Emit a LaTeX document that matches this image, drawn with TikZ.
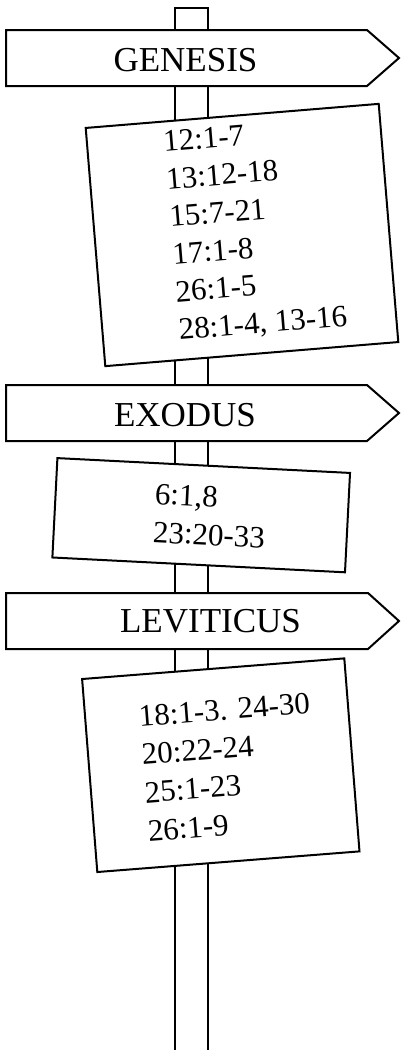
\documentclass[tikz,border=0pt]{standalone}
\usepackage{fontspec}
\setmainfont{Liberation Serif}
\tikzset{
  post/.style={line width=2pt},
  signboard/.style={draw, line width=2pt, fill=white},
  card/.style={rectangle, draw, line width=2pt, fill=white, inner sep=0pt},
  booklabel/.style={font=\fontsize{35}{42}\selectfont, inner sep=0pt},
  verses/.style={align=left, anchor=north west, inner sep=0pt}
}

\begin{document}
\begin{tikzpicture}[x=1pt,y=-1pt]
	\useasboundingbox (0,0) rectangle (400,1050);
	% the post
	\draw[post] (175,1060) -- (175,8) -- (208,8) -- (208,1060);

	% Genesis
	\draw[signboard] (6,30) -- (367,30) -- (399,58) -- (367,86) -- (6,86) -- cycle;
	\node (genesis) [booklabel] at (185.5,60) {GENESIS};
	\begin{scope}[shift={(242,235)}, rotate=4.7, transform shape]
		\node (genbox) [card, minimum width=294pt, minimum height=239pt] at (0,0) {};
		\node (genverses) [verses, font=\fontsize{31}{37.7}\selectfont] at (-71,-110.1)
			{12:1-7\\ 13:12-18\\ 15:7-21\\ 17:1-8\\ 26:1-5\\ 28:1-4, 13-16};
	\end{scope}

	% Exodus
	\draw[signboard] (6,385) -- (367,385) -- (399,413) -- (367,441) -- (6,441) -- cycle;
	\node (exodus) [booklabel] at (185,415.5) {EXODUS};
	\begin{scope}[shift={(201.2,515.2)}, rotate=-2.9, transform shape]
		\node (exbox) [card, minimum width=293pt, minimum height=99.5pt] at (0,0) {};
		\node (exverses) [verses, font=\fontsize{31}{38.4}\selectfont] at (-47.4,-29.6)
			{6:1,8\\ 23:20-33};
	\end{scope}

	% Leviticus
	\draw[signboard] (6,593) -- (368,593) -- (399,621) -- (368,649) -- (6,649) -- cycle;
	\node (leviticus) [booklabel] at (210.5,621) {LEVITICUS};
	\begin{scope}[shift={(220.8,765.2)}, rotate=4.5, transform shape]
		\node (levbox) [card, minimum width=263pt, minimum height=193.6pt] at (0,0) {};
		\node (levverses) [verses, font=\fontsize{31}{38.4}\selectfont] at (-78,-65.8)
			{18:1-3. 24-30\\ 20:22-24\\ 25:1-23\\ 26:1-9};
	\end{scope}
\end{tikzpicture}
\end{document}
